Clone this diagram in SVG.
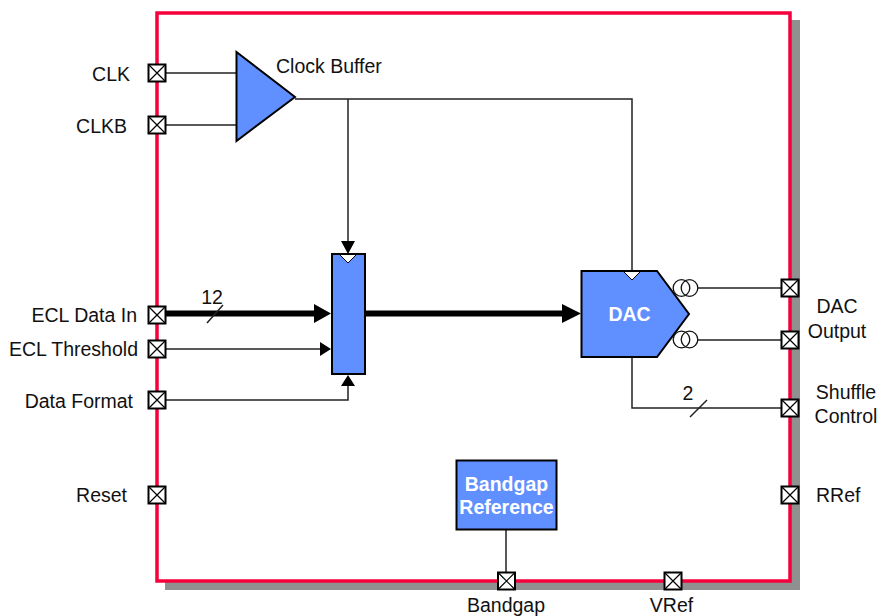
<svg xmlns="http://www.w3.org/2000/svg" width="879" height="616" viewBox="0 0 879 616">
<style>
text{font-family:"Liberation Sans",Arial,sans-serif;font-size:19.500px;fill:#111}
.w{fill:#fff;font-weight:bold;text-anchor:middle}
.m{text-anchor:middle}
.e{text-anchor:end}
.b{fill:#6090ff;stroke:#000;stroke-width:2}
.l{fill:none;stroke:#222;stroke-width:1.5}
.t{fill:none;stroke:#000;stroke-width:6}
.p rect{fill:#fff;stroke:#000;stroke-width:2}
.p path{stroke:#000;stroke-width:1.200;fill:none}
.n{fill:#fff;stroke:#000;stroke-width:1}
</style>
<defs>
<g id="x" class="p"><rect x="-8.500" y="-8.500" width="17" height="17"/><path d="M-8.500-8.500L8.500 8.500M-8.500 8.500L8.500-8.500"/></g>
</defs>
<g id="chip">
<path d="M165 581V590H800V20H791V581Z" fill="#909090"/>
<rect x="157" y="13" width="633" height="568" fill="#fff" stroke="#f5003c" stroke-width="3.500"/>
</g>
<g id="connectors">
<path class="l" d="M165 73H237M165 125H237M295 99H632V271M348 99V243M165 349H320M165 400H348V386M698 288H782M698 340H782M632 357V408H782M506 529V573"/>
<path class="t" d="M165 313.500H314M366 313.500H564"/>
<path class="l" d="M207 323L223 305M690 417L707 400"/>
<path d="M348 254L341 241H355Z M331 349L320 342V356Z M348 375L341 386H355Z M331 313.500L314 304V323Z M581 313.500L562 304V323Z"/>
</g>
<g id="clock-buffer"><path class="b" d="M236.500 52L295 97L236.500 141Z"/><text x="276" y="73">Clock Buffer</text></g>
<g id="register"><rect class="b" x="332" y="254" width="33" height="120"/><path class="n" d="M339.500 254.500H356.500L348 263Z"/></g>
<g id="dac"><path class="b" d="M581.500 271H657L689 314L657 357H581.500Z"/><path class="n" d="M623.500 271.500H640.500L632 280Z"/><text class="w" x="629.500" y="321">DAC</text>
<g fill="none" stroke="#111" stroke-width="1.300"><circle cx="681.500" cy="288" r="8.300"/><circle cx="689.500" cy="288" r="8.300"/><circle cx="681.500" cy="339.500" r="8.300"/><circle cx="689.500" cy="339.500" r="8.300"/></g></g>
<g id="bandgap-reference"><rect class="b" x="456.500" y="460.500" width="100" height="69"/><text class="w" x="506.500" y="491">Bandgap</text><text class="w" x="506.500" y="514">Reference</text></g>
<g id="pad-clk"><use href="#x" x="157" y="73"/><text class="e" x="130" y="81">CLK</text></g>
<g id="pad-clkb"><use href="#x" x="157" y="125"/><text class="e" x="127" y="133">CLKB</text></g>
<g id="pad-data"><use href="#x" x="157" y="315"/><text class="e" x="137" y="322">ECL Data In</text></g>
<g id="pad-thresh"><use href="#x" x="157" y="349"/><text class="e" x="138" y="356">ECL Threshold</text></g>
<g id="pad-format"><use href="#x" x="157" y="400"/><text class="e" x="133" y="408">Data Format</text></g>
<g id="pad-reset"><use href="#x" x="157" y="495"/><text class="e" x="127" y="502">Reset</text></g>
<g id="pad-dac1"><use href="#x" x="790" y="288"/></g>
<g id="pad-dac2"><use href="#x" x="790" y="340"/></g>
<g id="pad-shuffle"><use href="#x" x="790" y="408"/></g>
<g id="pad-rref"><use href="#x" x="790" y="495"/><text x="816" y="502">RRef</text></g>
<g id="pad-bandgap"><use href="#x" x="506.500" y="581"/><text class="m" x="506" y="612">Bandgap</text></g>
<g id="pad-vref"><use href="#x" x="673" y="581"/><text class="m" x="671.500" y="612">VRef</text></g>
<text class="m" x="837" y="313">DAC</text><text class="m" x="837" y="338">Output</text>
<text class="m" x="846" y="399">Shuffle</text><text class="m" x="846" y="423">Control</text>
<text class="m" x="212" y="304">12</text><text class="m" x="688" y="400">2</text>
</svg>
